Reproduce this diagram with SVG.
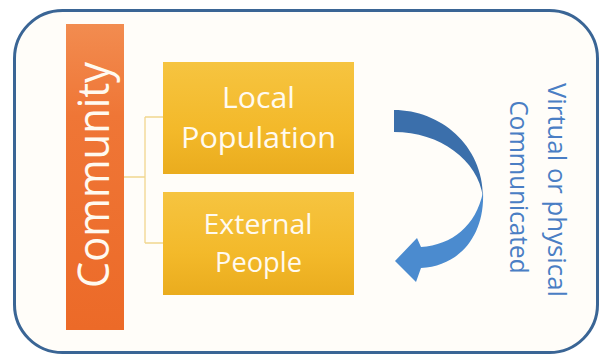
<svg xmlns="http://www.w3.org/2000/svg" width="601" height="356" viewBox="0 0 601 356">
<defs>
<linearGradient id="gOrange" x1="0" y1="0" x2="0" y2="1">
<stop offset="0" stop-color="#f28c50"/>
<stop offset="0.3" stop-color="#ef7636"/>
<stop offset="1" stop-color="#ec6a28"/>
</linearGradient>
<linearGradient id="gYellow" x1="0" y1="0" x2="0" y2="1">
<stop offset="0" stop-color="#f6c440"/>
<stop offset="0.6" stop-color="#f3b92a"/>
<stop offset="1" stop-color="#eaac1e"/>
</linearGradient>
<style>
.frame{fill:#fffdf9;stroke:#3a6595;stroke-width:3}
.box{fill:url(#gYellow)}
.lbl{font-family:"Open Sans","Noto Sans",sans-serif;fill:#fffaf0;text-anchor:middle}
.side{font-family:"Open Sans","Noto Sans",sans-serif;fill:#4a7ec4;text-anchor:middle;font-size:25px}
.conn{fill:none;stroke:#f1d68e;stroke-width:1.3}
</style>
</defs>
<rect class="frame" x="14.5" y="10.5" width="583" height="342" rx="48" ry="48"/>
<g id="connectors">
<path class="conn" d="M124,177 H145 M145,117 V243 M145,117 H163 M145,243 H163"/>
</g>
<g id="community">
<rect x="66" y="24" width="58" height="306" fill="url(#gOrange)"/>
<text class="lbl" font-size="44" transform="translate(109,175) rotate(-90)" textLength="226" lengthAdjust="spacingAndGlyphs">Community</text>
</g>
<g id="local-population">
<rect class="box" x="163" y="62" width="191" height="112"/>
<text class="lbl" font-size="29" x="258.5" y="108" textLength="73" lengthAdjust="spacingAndGlyphs">Local</text>
<text class="lbl" font-size="29" x="258.5" y="148" textLength="155" lengthAdjust="spacingAndGlyphs">Population</text>
</g>
<g id="external-people">
<rect class="box" x="163" y="192" width="191" height="103"/>
<text class="lbl" font-size="27" x="258" y="234" textLength="109" lengthAdjust="spacingAndGlyphs">External</text>
<text class="lbl" font-size="27" x="258.5" y="272" textLength="87" lengthAdjust="spacingAndGlyphs">People</text>
</g>
<g id="arrow">
<path d="M394,110 C440,110 483,145 483,197 C478,160 440,132 394,132 Z" fill="#3b6fab"/>
<path d="M483,192 C485,235 460,266 421,268 L416,282 L395,261 L417,238 L421,247 C452,245 476,226 483,192 Z" fill="#4b8bcf"/>
</g>
<g id="label-side">
<text class="side" transform="translate(548,190) rotate(90)" textLength="214" lengthAdjust="spacingAndGlyphs">Virtual or physical</text>
<text class="side" transform="translate(510,187) rotate(90)" textLength="173" lengthAdjust="spacingAndGlyphs">Communicated</text>
</g>
</svg>
